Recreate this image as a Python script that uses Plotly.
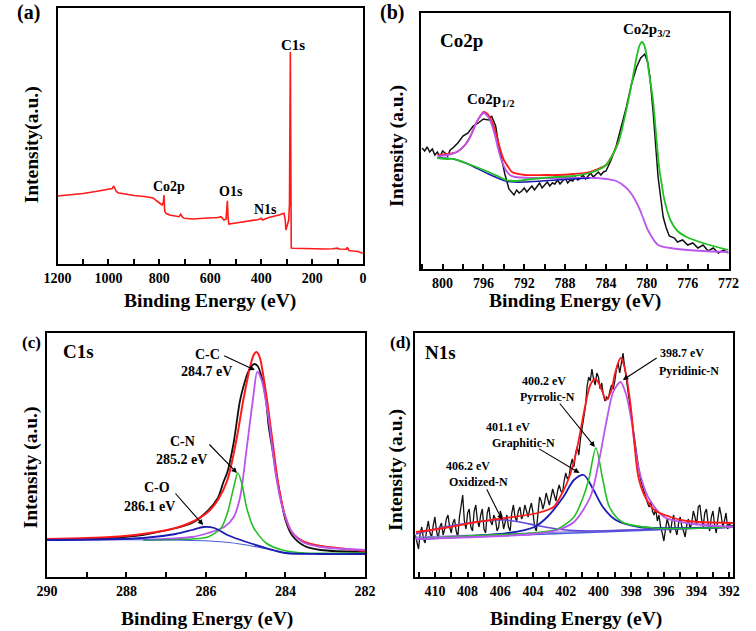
import plotly.graph_objects as go

W, H = 756, 631
FONT = "Liberation Serif, Times New Roman, Tinos, DejaVu Serif, serif"

# ---------------- (a) survey ----------------
survey_be = [1200, 1150, 1100, 1050, 1001, 985, 979, 970, 963, 940, 900, 860, 824, 810, 799, 789, 784, 782, 779, 774,
             760, 740, 723, 716, 710, 702, 670, 640, 600, 570, 558, 546, 538, 533, 530, 527, 500, 471, 440, 410,
             400, 395, 370, 350, 330, 311, 306, 303, 298, 292, 289, 287, 285.5, 284, 282, 273, 250, 200, 150, 120,
             100, 95, 80, 65, 62, 55, 40, 20, 1]
survey_int = [68, 69, 70.5, 72.5, 74.7, 75.5, 78, 73, 71.3, 70, 68.5, 67.5, 66, 63, 60.7, 59, 62, 69, 53, 50.7,
              49, 48, 47.3, 49.7, 47, 45.7, 45, 45.5, 46, 46.5, 47.3, 44, 45, 63.3, 46, 40, 41, 42.3, 43, 44.5,
              45.7, 44, 46.5, 47.5, 49, 50.7, 45, 34, 38, 44, 60, 212, 212, 120, 16, 15.7, 15.5, 15.3, 15, 15.2,
              15.8, 15, 14.8, 14.7, 16.7, 13.5, 13, 12.5, 10.7]
survey_labels = ["C1s", "Co2p", "O1s", "N1s"]
survey_label_be = [277, 763, 520, 384]
survey_label_int = [219, 77, 72, 54]

# ---------------- (b) Co2p ----------------
co_be = [802.0, 801.75, 801.5, 801.25, 801.0, 800.75, 800.5, 800.25, 800.0, 799.75, 799.5, 799.25, 799.0, 798.5,
         798.0, 797.5, 797.0, 796.5, 796.0, 795.5, 795.2,
         794.8, 794.5, 794.2, 793.9, 793.5, 793.25, 793.0, 792.75, 792.5, 792.25, 792.0, 791.75, 791.5, 791.25,
         791.0, 790.75, 790.5, 790.25, 790.0, 789.75, 789.5, 789.25, 789.0, 788.75, 788.5, 788.25, 788.0, 787.75,
         787.5, 787.25, 787.0, 786.75, 786.5, 786.25, 786.0, 785.75, 785.5, 785.25, 785.0, 784.75, 784.5, 784.25,
         784.0, 783.5, 783.0, 782.5, 782.0, 781.5, 781.0,
         780.6, 780.2, 779.9, 779.7, 779.4, 779.1, 778.9, 778.6, 778.4, 778.1, 777.8, 777.3, 777.0, 776.5, 776.0,
         775.5, 775.0, 774.5, 774.0, 773.5, 773.0, 772.5, 772.0]
co_raw = [121, 118, 122, 117, 120, 114, 117, 112, 118, 116, 113, 119, 121, 126,
          133, 136, 143, 146, 150, 149, 153,
          143, 124, 108, 95, 80, 77, 74, 79, 76, 78, 81, 77, 80, 83,
          79, 82, 86, 81, 84, 87, 83, 86, 85, 89, 85, 88, 91, 86,
          89, 88, 92, 89, 91, 94, 90, 93, 96, 92, 95, 97, 94, 97,
          98, 109, 123, 142, 162, 185, 202,
          211, 215, 206, 192, 159, 120, 92, 68, 52, 41, 33, 31, 27, 29, 24,
          26, 21, 24, 18, 21, 16, 19, 16]
co_green_be = [800.5, 799.5, 798.9, 797.5, 796.7, 795.5, 794.6, 793.8, 793.0, 792.0, 790.3, 788.8, 787.2, 785.6,
               784.8, 784.0, 783.3, 782.7, 782.1, 781.8, 781.4, 781.0, 780.7, 780.5, 780.3, 780.05, 779.8, 779.4,
               779.1, 778.8, 778.5, 778.3, 777.7, 777.0, 776.1, 774.5, 772.0]
co_green = [111, 110, 110, 105, 102, 97, 93, 89, 88, 89, 91, 92, 93, 96,
            99, 104, 115, 129, 155, 169, 190, 212, 224, 227, 225, 215, 197, 169,
            135, 102, 82, 70, 49, 38, 32, 26, 19]
co_red_be = [800.5, 799.5, 798.6, 797.8, 797.3, 796.7, 796.3, 795.98, 795.6, 795.25, 794.9, 794.6, 794.3, 794.0,
             793.5, 793.2, 791.9, 790.0, 788.8, 787.2, 785.6, 784.8, 784.0, 783.3, 782.7]
co_red = [114, 115, 117, 124, 132, 146, 153, 157, 155, 149, 140, 129, 118, 109,
          101, 97, 94, 94, 94, 95, 97, 100, 104, 115, 129]
co_mag_be = [800.5, 799.5, 798.6, 797.8, 797.3, 796.7, 796.3, 795.98, 795.6, 795.25, 794.9, 794.6, 794.2, 793.8,
             793.4, 792.9, 791.0, 788.8, 787.2, 785.0, 784.0, 783.0, 782.1, 781.5, 780.8, 780.4, 779.9, 778.9,
             777.7, 776.0, 774.5, 772.0]
co_mag = [113, 114, 117, 124, 132, 146, 153, 156, 153, 146, 135, 122, 108, 99,
          94, 92, 91, 91, 91, 91, 90, 88, 82, 75, 62, 52, 39, 24,
          21, 19, 18, 17]
co_blue_be = [800.5, 798.9, 797.5, 796.7, 795.5, 794.6, 793.8, 793.0, 792.0, 790.3, 788.8, 787.2, 785.6]
co_blue = [111, 110, 105, 101, 95, 91, 88, 87, 87, 88, 89, 90, 91]

# ---------------- (c) C1s ----------------
c_be = [290.0, 288.4, 287.6, 286.76, 286.35, 285.96, 285.7, 285.56, 285.46, 285.3, 285.15, 285.06, 284.95, 284.85,
        284.79, 284.7, 284.6, 284.49, 284.42, 284.33, 284.18, 284.0, 283.84, 283.52, 283.11, 282.0]
c_raw = [37, 39, 42, 49, 54, 66, 79, 95, 105, 135, 175, 190, 204, 211,
         213, 211, 200, 177, 150, 128, 92, 57, 42, 31, 27, 25]
c_red_be = [290.0, 288.4, 287.6, 286.76, 286.35, 285.95, 285.7, 285.46, 285.22, 285.06, 284.89, 284.8, 284.73,
            284.65, 284.49, 284.33, 284.17, 284.0, 283.84, 283.52, 283.11, 282.7, 282.0]
c_red = [38, 40, 43, 49, 55, 65, 77, 97, 140, 177, 210, 222, 225,
         220, 184, 137, 90, 60, 45, 35, 31, 29, 26]
c_cc_be = [287.57, 286.35, 285.95, 285.54, 285.3, 285.14, 284.98, 284.81, 284.71, 284.6, 284.41, 284.25, 284.08,
           283.84, 283.52, 283.11, 282.0]
c_cc = [37, 40, 44, 50, 60, 80, 127, 180, 205, 197, 154, 104, 70,
        45, 34, 30, 27]
c_cn_be = [287.57, 286.35, 285.95, 285.62, 285.46, 285.30, 285.2, 285.10, 284.98, 284.81, 284.49, 284.08, 283.52, 282.0]
c_cn = [37, 38, 40, 49, 64, 90, 104, 94, 70, 50, 34, 27, 24, 24]
c_co_be = [290.0, 287.57, 286.76, 286.35, 286.06, 285.79, 285.46, 284.98, 284.49, 284.0, 283.11, 282.0]
c_co = [37, 39, 43, 47, 50, 49, 42, 35, 29, 24, 23, 23]
c_bg_be = [290.0, 286.76, 285.54, 284.98, 284.33, 283.92, 282.0]
c_bg = [37, 37, 35, 32, 27, 24, 23]

# ---------------- (d) N1s ----------------
# raw spectrum read every 0.1 eV from 411.2 eV down to 391.8 eV
n_raw = [42, 36, 28, 44, 50, 38, 34, 48, 56, 44, 40, 52, 60, 46, 38, 50, 54, 42, 48, 58,
         62, 50, 44, 54, 58, 46, 40, 60, 74, 82, 56, 48, 64, 68, 50, 46, 66, 72, 56, 50,
         62, 68, 48, 44, 64, 70, 56, 52, 62, 58, 46, 50, 66, 60, 48, 56, 62, 50, 46, 64,
         72, 60, 56, 66, 70, 58, 62, 72, 66, 60, 68, 74, 64, 50, 46, 62, 80, 76, 68, 74,
         84, 78, 72, 80, 88, 82, 76, 86, 92, 86, 84, 96, 104, 98, 100, 112, 118, 110, 124, 130,
         122, 138, 150, 158, 170, 190, 200, 196, 208, 198, 192, 204, 200, 188, 194, 182, 176, 180, 178, 186,
         192, 188, 196, 208, 214, 204, 216, 224, 210, 198, 186, 174, 164, 150, 138, 124, 116, 104, 96, 90,
         86, 80, 74, 70, 76, 66, 62, 68, 56, 62, 50, 44, 36, 48, 58, 52, 44, 56, 62, 48,
         42, 54, 60, 50, 46, 40, 52, 58, 48, 54, 66, 60, 52, 70, 72, 58, 50, 64, 68, 54,
         46, 60, 66, 52, 44, 58, 70, 62, 50, 56, 64, 48, 54, 50, 52]
n_be = [round(411.2 - 0.1 * i, 1) for i in range(len(n_raw))]
n_red_be = [411.16, 409.43, 407.46, 405.69, 403.72, 402.74, 402.35, 401.95, 401.5, 401.17, 400.8, 400.5, 400.2,
            399.95, 399.75, 399.53, 399.2, 399.0, 398.65, 398.41, 398.02, 397.8, 397.56, 397.2, 396.58, 395.6,
            394.6, 391.78]
n_red = [45, 49, 55, 59, 64, 70, 80, 93, 115, 140, 172, 192, 198,
         193, 185, 177, 187, 203, 219, 210, 170, 132, 100, 82, 67, 60,
         56, 54]
n_pyd_be = [411.16, 406.0, 404.0, 402.5, 401.5, 400.5, 399.92, 399.53, 399.1, 398.65, 398.3, 397.96, 397.56,
            396.97, 395.99, 394.6, 391.78]
n_pyd = [38, 41, 43, 47, 55, 80, 120, 154, 185, 195, 182, 154, 110,
         80, 60, 54, 50]
n_pyr_be = [411.16, 408.0, 404.0, 402.5, 401.5, 401.0, 400.6, 400.16, 399.73, 399.33, 398.55, 396.6, 391.78]
n_pyr = [38, 41, 44, 48, 60, 77, 97, 129, 97, 70, 55, 49, 50]
n_gra_be = [411.16, 405.5, 403.92, 403.13, 402.15, 401.5, 400.9, 400.3, 399.73, 398.94, 397.5, 394.0, 391.78]
n_gra = [38, 44, 50, 60, 80, 97, 102, 87, 70, 57, 50, 49, 50]
n_oxi_be = [411.16, 409.43, 407.46, 406.2, 405.69, 404.5, 403.92, 402.9, 401.95, 400.0, 398.0, 391.78]
n_oxi = [43, 50, 55, 57, 57, 54, 52, 49, 47, 46, 47, 50]
n_bg_be = [411.16, 391.78]
n_bg = [38, 50]
n_bg2 = [40, 51]

# ---------------- figure ----------------
BLACK = "#111111"
RED = "#ff1a1a"
GREEN = "#22c022"
PURPLE = "#bb55ee"
BLUE = "#1a1ab4"
SLATE = "#6048d8"
BG = "#4a5ad8"

fig = go.Figure()


def add(x, y, ax, color, width=1.6, smooth=True):
    fig.add_trace(go.Scatter(
        x=x, y=y, xaxis="x" + ax, yaxis="y" + ax, mode="lines",
        line=dict(color=color, width=width, shape="spline" if smooth else "linear",
                  smoothing=0.8 if smooth else None),
        showlegend=False, hoverinfo="skip"))


# (a)
add(survey_be, survey_int, "", RED, 1.6, False)
# (b)
add(co_be, co_raw, "2", BLACK, 1.5, False)
add(co_red_be, co_red, "2", RED, 1.8)
add(co_mag_be, co_mag, "2", PURPLE, 1.8)
add(co_blue_be, co_blue, "2", BLUE, 1.6)
add(co_green_be, co_green, "2", GREEN, 1.8)
# (c)
add(c_be, c_raw, "3", BLACK, 1.8)
add(c_red_be, c_red, "3", RED, 2.0)
add(c_cc_be, c_cc, "3", PURPLE, 1.8)
add(c_cn_be, c_cn, "3", GREEN, 1.6)
add(c_bg_be, c_bg, "3", BG, 1.2)
add(c_co_be, c_co, "3", BLUE, 1.8)
# (d)
add(n_be, n_raw, "4", BLACK, 1.3, False)
add(n_bg_be, n_bg2, "4", "#8a7ae0", 1.2, False)
add(n_bg_be, n_bg, "4", BG, 1.4, False)
add(n_oxi_be, n_oxi, "4", SLATE, 1.6)
add(n_gra_be, n_gra, "4", BLUE, 1.8)
add(n_pyr_be, n_pyr, "4", GREEN, 1.6)
add(n_pyd_be, n_pyd, "4", PURPLE, 1.8)
add(n_red_be, n_red, "4", RED, 1.8)


def xdom(l, r):
    return [l / W, r / W]


def ydom(t, b):
    return [1 - b / H, 1 - t / H]


tickfont = dict(family=FONT, size=14, color="black", weight="bold")


def xax(dom, rng, dtick, minor, anchor):
    return dict(domain=dom, range=rng, dtick=dtick, tick0=0, showline=True, linecolor="black", linewidth=2,
                mirror=True, ticks="inside", ticklen=5, tickwidth=1.5, tickcolor="black",
                minor=dict(dtick=minor, ticks="inside", ticklen=5, tickwidth=1.5, tickcolor="black"),
                showgrid=False, zeroline=False, tickfont=tickfont, anchor=anchor, fixedrange=True)


def yax(dom, top, anchor):
    return dict(domain=dom, range=[0, top], showline=True, linecolor="black", linewidth=2, mirror=True,
                ticks="", showticklabels=False, showgrid=False, zeroline=False, anchor=anchor, fixedrange=True)


fig.update_layout(
    width=W, height=H, margin=dict(l=0, r=0, t=0, b=0),
    paper_bgcolor="white", plot_bgcolor="white",
    font=dict(family=FONT),
    xaxis=xax(xdom(45, 361), [1200, 0], 200, 100, "y"),
    yaxis=yax(ydom(8, 264), 256, "x"),
    xaxis2=xax(xdom(421, 739), [802.1, 772], 4, 2, "y2"),
    yaxis2=yax(ydom(13, 269), 256, "x2"),
    xaxis3=xax(xdom(34, 363), [290, 282], 2, 1, "y3"),
    yaxis3=yax(ydom(333, 577), 244, "x3"),
    xaxis4=xax(xdom(415, 744), [411.2, 391.75], 2, 1, "y4"),
    yaxis4=yax(ydom(333, 577), 244, "x4"),
)

ann = []


def ptext(text, px, py, size, angle=0):
    ann.append(dict(text="<b>" + text + "</b>", x=px / W, y=1 - py / H, xref="paper", yref="paper",
                    showarrow=False, xanchor="center", yanchor="middle", textangle=angle,
                    font=dict(family=FONT, size=size, color="black")))


def dtext(text, x, y, ax, size):
    ann.append(dict(text="<b>" + text + "</b>", x=x, y=y, xref="x" + ax, yref="y" + ax, showarrow=False,
                    xanchor="center", yanchor="middle",
                    font=dict(family=FONT, size=size, color="black")))


def arrow(x0, y0, x1, y1, ax):
    ann.append(dict(text="", x=x1, y=y1, ax=x0, ay=y0, xref="x" + ax, yref="y" + ax,
                    axref="x" + ax, ayref="y" + ax, showarrow=True, arrowhead=2, arrowsize=1,
                    arrowwidth=1.1, arrowcolor="black"))


# panel letters
ptext("(a)", 15, 13, 20)
ptext("(b)", 391, 13, 20)
ptext("(c)", 18, 342, 17)
ptext("(d)", 400, 342, 17)
# axis titles
ptext("Binding Energy (eV)", 203, 301, 19.5)
ptext("Binding Energy (eV)", 580, 301, 19.5)
ptext("Binding Energy (eV)", 200, 619, 19.5)
ptext("Binding Energy (eV)", 581, 619, 19.5)
ptext("Intensity(a.u.)", 19, 145, 19.5, -90)
ptext("Intensity (a.u.)", 396, 146, 19.5, -90)
ptext("Intensity (a.u.)", 18, 467, 19.5, -90)
ptext("Intensity (a.u.)", 395, 470, 19.5, -90)

# (a) labels
for t, x, y in zip(survey_labels, survey_label_be, survey_label_int):
    dtext(t, x, y, "", 15 if t == "C1s" else 14)

# (b) labels
dtext("Co2p", 798.15, 228, "2", 19)
dtext("Co2p<sub>1/2</sub>", 795.25, 169, "2", 15)
dtext("Co2p<sub>3/2</sub>", 780.0, 239, "2", 15)

# (c) labels
dtext("C1s", 289.2, 226, "3", 19)
dtext("C-C", 285.95, 223, "3", 14)
dtext("284.7 eV", 285.99, 206, "3", 14)
arrow(285.58, 222, 284.77, 207, "3")
dtext("C-N", 286.58, 136, "3", 14)
dtext("285.2 eV", 286.61, 118, "3", 14)
arrow(285.95, 134, 285.22, 104, "3")
dtext("C-O", 287.24, 89.5, "3", 14)
dtext("286.1 eV", 287.41, 71, "3", 14)
arrow(286.8, 85, 286.07, 52, "3")

# (d) labels
dtext("N1s", 409.66, 224.5, "4", 19)
dtext("398.7 eV", 394.87, 224, "4", 12)
dtext("Pyridinic-N", 394.47, 206.5, "4", 12)
arrow(396.35, 220, 398.51, 197, "4")
dtext("400.2 eV", 403.33, 196, "4", 12)
dtext("Pyrrolic-N", 403.13, 180, "4", 12)
arrow(402.44, 175, 400.22, 130, "4")
dtext("401.1 eV", 405.55, 150, "4", 12)
dtext("Graphitic-N", 404.57, 134.5, "4", 12)
arrow(403.72, 129, 401.16, 104, "4")
dtext("406.2 eV", 407.95, 111, "4", 12)
dtext("Oxidized-N", 407.36, 95.3, "4", 12)
arrow(406.87, 89, 405.89, 57, "4")

fig.update_layout(annotations=ann)
fig.write_html("out.html")
